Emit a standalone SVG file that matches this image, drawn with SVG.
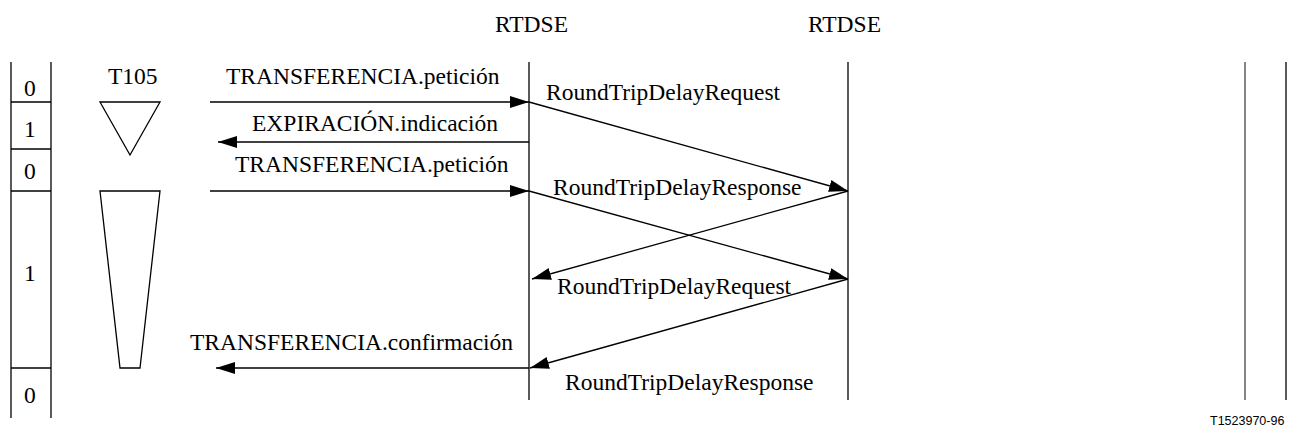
<svg xmlns="http://www.w3.org/2000/svg" width="1294" height="434" viewBox="0 0 1294 434">
<defs>
<marker id="ah" markerWidth="20" markerHeight="12" refX="19" refY="6" orient="auto" markerUnits="userSpaceOnUse">
<path d="M0,0 L19,6 L0,12 Z" fill="#000"/>
</marker>
</defs>
<rect width="1294" height="434" fill="#fff"/>
<g id="state-table" stroke="#000" stroke-width="1.3" fill="none">
<line x1="11" y1="62" x2="11" y2="418"/>
<line x1="51" y1="62" x2="51" y2="418"/>
<line x1="11" y1="102" x2="51" y2="102"/>
<line x1="11" y1="149" x2="51" y2="149"/>
<line x1="11" y1="191" x2="51" y2="191"/>
<line x1="11" y1="368" x2="51" y2="368"/>
</g>
<g id="state-labels">
<text x="24" y="96" style="font-family:'Liberation Serif',serif;font-size:23.5px">0</text>
<text x="24" y="137" style="font-family:'Liberation Serif',serif;font-size:23.5px">1</text>
<text x="24" y="179" style="font-family:'Liberation Serif',serif;font-size:23.5px">0</text>
<text x="24" y="281" style="font-family:'Liberation Serif',serif;font-size:23.5px">1</text>
<text x="24" y="403" style="font-family:'Liberation Serif',serif;font-size:23.5px">0</text>
</g>
<g id="timer">
<text x="108" y="84" style="font-family:'Liberation Serif',serif;font-size:23.5px">T105</text>
<polygon points="100,102 160,102 130,155" stroke="#000" stroke-width="1.3" fill="none"/>
<polygon points="100,191 160,191 140,368 120,368" stroke="#000" stroke-width="1.3" fill="none"/>
</g>
<g id="rtdse-a">
<text x="495" y="32" style="font-family:'Liberation Serif',serif;font-size:23.5px">RTDSE</text>
<line x1="529" y1="62" x2="529" y2="400" stroke="#000" stroke-width="1.3"/>
</g>
<g id="rtdse-b">
<text x="808" y="32" style="font-family:'Liberation Serif',serif;font-size:23.5px">RTDSE</text>
<line x1="848" y1="62" x2="848" y2="400" stroke="#000" stroke-width="1.3"/>
</g>
<g id="right-border">
<line x1="1245" y1="62" x2="1245" y2="400" stroke="#444" stroke-width="1.3"/>
<line x1="1286" y1="62" x2="1286" y2="400" stroke="#000" stroke-width="1.3"/>
</g>
<g id="connectors" stroke="#000" stroke-width="1.3" fill="none">
<line x1="210" y1="102" x2="529" y2="102" marker-end="url(#ah)"/>
<line x1="529" y1="142" x2="218" y2="142" marker-end="url(#ah)"/>
<line x1="210" y1="191" x2="529" y2="191" marker-end="url(#ah)"/>
<line x1="529" y1="368" x2="216" y2="368" marker-end="url(#ah)"/>
<line x1="529" y1="102" x2="848" y2="191" marker-end="url(#ah)"/>
<line x1="848" y1="191" x2="532" y2="279" marker-end="url(#ah)"/>
<line x1="529" y1="191" x2="848" y2="279" marker-end="url(#ah)"/>
<line x1="848" y1="279" x2="530" y2="368" marker-end="url(#ah)"/>
</g>
<g id="labels">
<text x="226" y="84" style="font-family:'Liberation Serif',serif;font-size:23.5px">TRANSFERENCIA.petición</text>
<text x="252" y="131" style="font-family:'Liberation Serif',serif;font-size:23.5px">EXPIRACIÓN.indicación</text>
<text x="235" y="172" style="font-family:'Liberation Serif',serif;font-size:23.5px">TRANSFERENCIA.petición</text>
<text x="190" y="350" style="font-family:'Liberation Serif',serif;font-size:23.5px">TRANSFERENCIA.confirmación</text>
<text x="546" y="100" style="font-family:'Liberation Serif',serif;font-size:23.5px">RoundTripDelayRequest</text>
<text x="553" y="195" style="font-family:'Liberation Serif',serif;font-size:23.5px">RoundTripDelayResponse</text>
<text x="557" y="294" style="font-family:'Liberation Serif',serif;font-size:23.5px">RoundTripDelayRequest</text>
<text x="565" y="390" style="font-family:'Liberation Serif',serif;font-size:23.5px">RoundTripDelayResponse</text>
</g>
<text x="1210" y="425" style="font-family:'Liberation Sans',sans-serif;font-size:12.5px">T1523970-96</text>
</svg>
